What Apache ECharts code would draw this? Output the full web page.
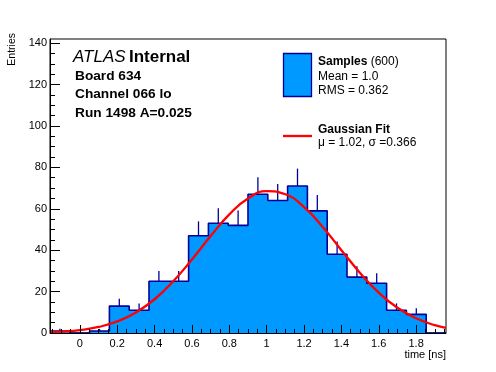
<!DOCTYPE html>
<html>
<head>
<meta charset="utf-8">
<script src="https://cdn.jsdelivr.net/npm/echarts@6/dist/echarts.min.js"></script>
<style>html,body{margin:0;padding:0;background:#fff}#c{width:496px;height:372px}</style>
</head>
<body>
<div id="c"></div>
<script>
// ---- data ----
const binEdges = [-0.16, -0.054, 0.052, 0.158, 0.264, 0.37, 0.476, 0.582, 0.688, 0.794, 0.9, 1.006, 1.112, 1.218, 1.324, 1.43, 1.536, 1.642, 1.748, 1.854, 1.96];
const counts = [1, 0, 1, 13, 11, 25, 25, 47, 53, 52, 67, 64, 71, 59, 38, 27, 24, 11, 9, 0];
const errors = [1, 0, 1, 3.6, 3.3, 5, 5, 6.9, 7.3, 7.2, 8.2, 8, 8.4, 7.7, 6.2, 5.2, 4.9, 3.3, 3, 0];
const fitX = [-0.16, -0.1, 0, 0.1, 0.2, 0.3, 0.4, 0.5, 0.6, 0.7, 0.8, 0.9, 1.0, 1.1, 1.2, 1.3, 1.4, 1.5, 1.6, 1.7, 1.8, 1.9, 1.96];
const fitY = [0.38, 0.64, 1.41, 2.91, 5.58, 9.91, 16.3, 25.0, 35.5, 46.8, 57.3, 65.0, 68.5, 67.0, 60.8, 51.2, 40.0, 29.0, 19.5, 12.2, 7.1, 3.8, 2.5];
const xTickLabels = [0, 0.2, 0.4, 0.6, 0.8, 1, 1.2, 1.4, 1.6, 1.8];
const xMinorTicks = [-0.15, -0.1, -0.05, 0, 0.05, 0.1, 0.15, 0.2, 0.25, 0.3, 0.35, 0.4, 0.45, 0.5, 0.55, 0.6, 0.65, 0.7, 0.75, 0.8, 0.85, 0.9, 0.95, 1, 1.05, 1.1, 1.15, 1.2, 1.25, 1.3, 1.35, 1.4, 1.45, 1.5, 1.55, 1.6, 1.65, 1.7, 1.75, 1.8, 1.85, 1.9, 1.95];
const yTickLabels = [0, 20, 40, 60, 80, 100, 120, 140];
const yMinorTicks = [0, 5, 10, 15, 20, 25, 30, 35, 40, 45, 50, 55, 60, 65, 70, 75, 80, 85, 90, 95, 100, 105, 110, 115, 120, 125, 130, 135, 140];
const xRange = [-0.16, 1.96];
const yRange = [0, 142];

// ---- build ----
const FONT = '"Liberation Sans", Arial, Helvetica, sans-serif';
const stepData = binEdges.map((e, i) => [e, i < counts.length ? counts[i] : 0]);
const errData = [];
counts.forEach((c, i) => {
  if (c > 0) errData.push([(binEdges[i] + binEdges[i + 1]) / 2, c, errors[i]]);
});
const fitData = fitX.map((x, i) => [x, fitY[i]]);

const chart = echarts.init(document.getElementById('c'), null, {renderer: 'canvas'});
const axisCommon = {type: 'value', splitLine: {show: false}, z: 10};
chart.setOption({
  animation: false,
  backgroundColor: '#fff',
  grid: {left: 50, right: 50, top: 39, bottom: 39, show: true, borderColor: '#000', borderWidth: 1, backgroundColor: 'transparent'},
  xAxis: [
    Object.assign({}, axisCommon, {
      min: xRange[0], max: xRange[1], position: 'bottom',
      axisLine: {show: true, onZero: false, lineStyle: {color: '#000', width: 1}},
      axisTick: {show: true, inside: true, length: 8, customValues: xTickLabels, lineStyle: {color: '#000'}},
      axisLabel: {show: true, customValues: xTickLabels, color: '#000', fontFamily: FONT, fontSize: 11, margin: 5}
    }),
    Object.assign({}, axisCommon, {
      min: xRange[0], max: xRange[1], position: 'bottom',
      axisLine: {show: false, onZero: false},
      axisTick: {show: true, inside: true, length: 4, customValues: xMinorTicks, lineStyle: {color: '#000'}},
      axisLabel: {show: false}
    })
  ],
  yAxis: [
    Object.assign({}, axisCommon, {
      min: yRange[0], max: yRange[1], position: 'left',
      axisLine: {show: true, onZero: false, lineStyle: {color: '#000', width: 1}},
      axisTick: {show: true, inside: true, length: 10, customValues: yTickLabels, lineStyle: {color: '#000'}},
      axisLabel: {show: true, customValues: yTickLabels, color: '#000', fontFamily: FONT, fontSize: 11, margin: 3}
    }),
    Object.assign({}, axisCommon, {
      min: yRange[0], max: yRange[1], position: 'left',
      axisLine: {show: false, onZero: false},
      axisTick: {show: true, inside: true, length: 5, customValues: yMinorTicks, lineStyle: {color: '#000'}},
      axisLabel: {show: false}
    })
  ],
  series: [
    {
      type: 'custom', xAxisIndex: 0, yAxisIndex: 0, data: errData, clip: true,
      renderItem: function (params, api) {
        const x = api.value(0), c = api.value(1), e = api.value(2);
        const p1 = api.coord([x, c - e]);
        const p2 = api.coord([x, c + e]);
        return {type: 'line', shape: {x1: p1[0], y1: p1[1], x2: p2[0], y2: p2[1]},
          style: {stroke: '#000099', lineWidth: 1.3}};
      }
    },
    {
      type: 'line', xAxisIndex: 0, yAxisIndex: 0, data: stepData, step: 'end',
      symbol: 'none', lineStyle: {color: '#000099', width: 1.6},
      areaStyle: {color: '#0099ff', opacity: 1}
    },
    {
      type: 'line', xAxisIndex: 0, yAxisIndex: 0, data: fitData, smooth: true,
      symbol: 'none', lineStyle: {color: '#ff0000', width: 2.3}
    }
  ],
  graphic: [
    {type: 'text', x: 73, y: 57, style: {text: '{it|ATLAS} {b|Internal}', rich: {
      it: {fontFamily: FONT, fontSize: 17, fontStyle: 'italic', fill: '#000'},
      b: {fontFamily: FONT, fontSize: 17, fontWeight: 'bold', fill: '#000'}}, verticalAlign: 'middle', align: 'left'}},
    {type: 'text', x: 75, y: 76, style: {text: 'Board 634', font: 'bold 13.7px ' + FONT, fill: '#000', verticalAlign: 'middle'}},
    {type: 'text', x: 75, y: 94.7, style: {text: 'Channel 066 lo', font: 'bold 13.7px ' + FONT, fill: '#000', verticalAlign: 'middle'}},
    {type: 'text', x: 75, y: 113, style: {text: 'Run 1498 A=0.025', font: 'bold 13.7px ' + FONT, fill: '#000', verticalAlign: 'middle'}},
    {type: 'rect', shape: {x: 283.5, y: 53.5, width: 28, height: 43}, style: {fill: '#0099ff', stroke: '#000099', lineWidth: 1.3}},
    {type: 'text', x: 318, y: 62, style: {text: '{b|Samples} {n|(600)}', rich: {
      b: {fontFamily: FONT, fontSize: 12, fontWeight: 'bold', fill: '#000'},
      n: {fontFamily: FONT, fontSize: 12, fill: '#000'}}, verticalAlign: 'middle'}},
    {type: 'text', x: 318, y: 76.5, style: {text: 'Mean = 1.0', font: '12px ' + FONT, fill: '#000', verticalAlign: 'middle'}},
    {type: 'text', x: 318, y: 90.5, style: {text: 'RMS = 0.362', font: '12px ' + FONT, fill: '#000', verticalAlign: 'middle'}},
    {type: 'line', shape: {x1: 283, y1: 136, x2: 312, y2: 136}, style: {stroke: '#ff0000', lineWidth: 2.3}},
    {type: 'text', x: 318, y: 129.5, style: {text: 'Gaussian Fit', font: 'bold 12px ' + FONT, fill: '#000', verticalAlign: 'middle'}},
    {type: 'text', x: 318, y: 142.5, style: {text: 'μ = 1.02, σ =0.366', font: '12px ' + FONT, fill: '#000', verticalAlign: 'middle'}},
    {type: 'text', x: 446, y: 355, style: {text: 'time [ns]', font: '11px ' + FONT, fill: '#000', align: 'right', verticalAlign: 'middle'}},
    {type: 'text', x: 12, y: 33, rotation: Math.PI / 2, style: {text: 'Entries', font: '10.5px ' + FONT, fill: '#000', align: 'right', verticalAlign: 'middle'}}
  ]
});
</script>
</body>
</html>
